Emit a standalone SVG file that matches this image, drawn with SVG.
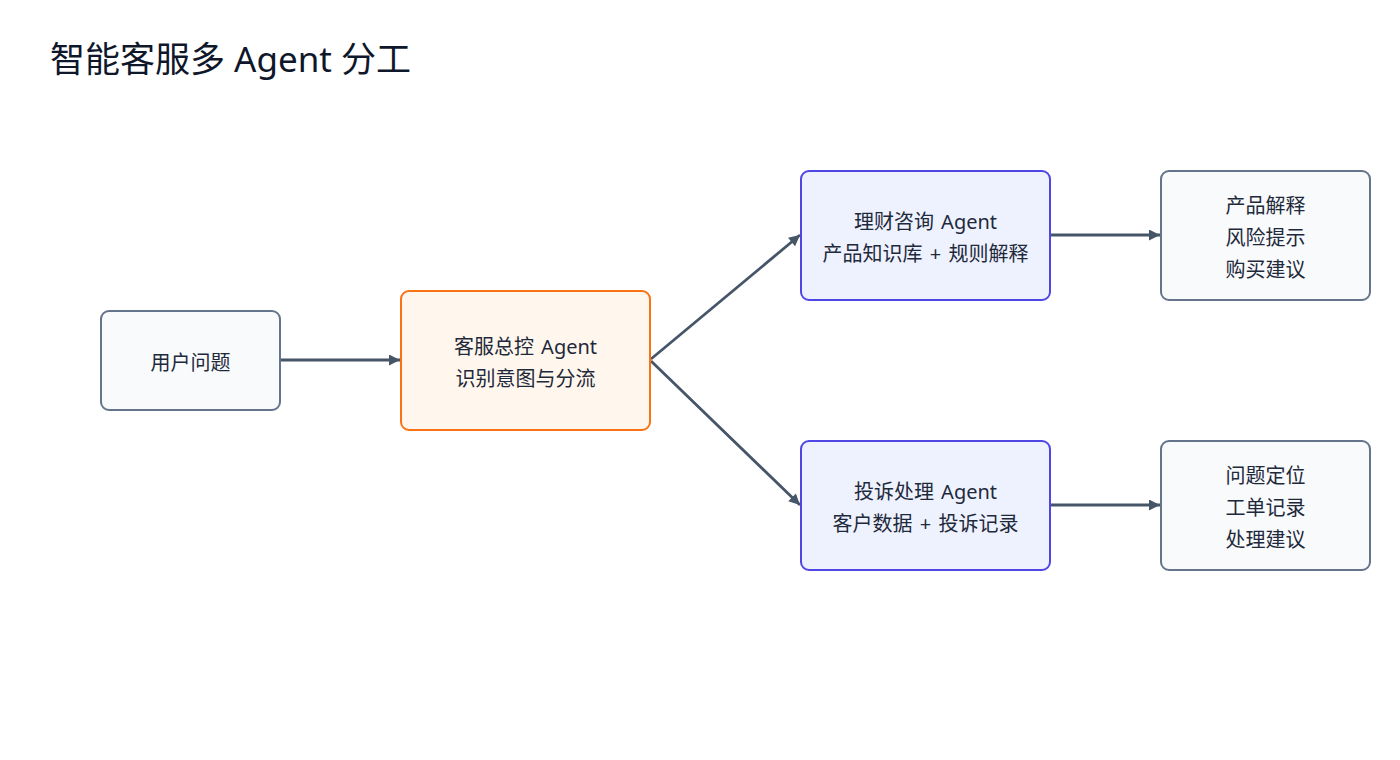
<svg xmlns="http://www.w3.org/2000/svg" width="1400" height="760" viewBox="0 0 1400 760">
<defs>
<style>
text{font-family:"Noto Sans","Noto Sans CJK SC",sans-serif;fill:#1e293b;}
.t{font-size:20px;text-anchor:middle;word-spacing:2px;}
.title{font-size:35px;fill:#0f172a;}
.plain{fill:#f8fafc;stroke:#64748b;stroke-width:2;}
.hub{fill:#fff7ed;stroke:#f97316;stroke-width:2;}
.agent{fill:#eef2ff;stroke:#4f46e5;stroke-width:2;}
.edge{stroke:#475569;stroke-width:2.8;fill:none;marker-end:url(#ah);}
</style>
<marker id="ah" viewBox="0 0 10 10" refX="10" refY="5" markerWidth="12" markerHeight="11" markerUnits="userSpaceOnUse" orient="auto">
<path d="M0,0 L10,5 L0,10 z" fill="#475569"/>
</marker>
</defs>
<rect width="1400" height="760" fill="#ffffff"/>
<text class="title" x="50" y="72">智能客服多 Agent 分工</text>
<g id="connectors">
<line class="edge" x1="281" y1="360" x2="400" y2="360"/>
<line class="edge" x1="651" y1="359" x2="800" y2="235"/>
<line class="edge" x1="651" y1="361" x2="800" y2="505"/>
<line class="edge" x1="1051" y1="235" x2="1160" y2="235"/>
<line class="edge" x1="1051" y1="505" x2="1160" y2="505"/>
</g>
<g id="user">
<rect class="plain" x="101" y="311" width="179" height="99" rx="8"/>
<text class="t" x="190.5" y="370">用户问题</text>
</g>
<g id="hub">
<rect class="hub" x="401" y="291" width="249" height="139" rx="8"/>
<text class="t" x="525.5" y="354">客服总控 Agent</text>
<text class="t" x="525.5" y="386">识别意图与分流</text>
</g>
<g id="finance">
<rect class="agent" x="801" y="171" width="249" height="129" rx="8"/>
<text class="t" x="925.5" y="229">理财咨询 Agent</text>
<text class="t" x="925.5" y="261">产品知识库 + 规则解释</text>
</g>
<g id="complaint">
<rect class="agent" x="801" y="441" width="249" height="129" rx="8"/>
<text class="t" x="925.5" y="499">投诉处理 Agent</text>
<text class="t" x="925.5" y="531">客户数据 + 投诉记录</text>
</g>
<g id="finance-out">
<rect class="plain" x="1161" y="171" width="209" height="129" rx="8"/>
<text class="t" x="1265.5" y="213">产品解释</text>
<text class="t" x="1265.5" y="245">风险提示</text>
<text class="t" x="1265.5" y="277">购买建议</text>
</g>
<g id="complaint-out">
<rect class="plain" x="1161" y="441" width="209" height="129" rx="8"/>
<text class="t" x="1265.5" y="483">问题定位</text>
<text class="t" x="1265.5" y="515">工单记录</text>
<text class="t" x="1265.5" y="547">处理建议</text>
</g>
</svg>
